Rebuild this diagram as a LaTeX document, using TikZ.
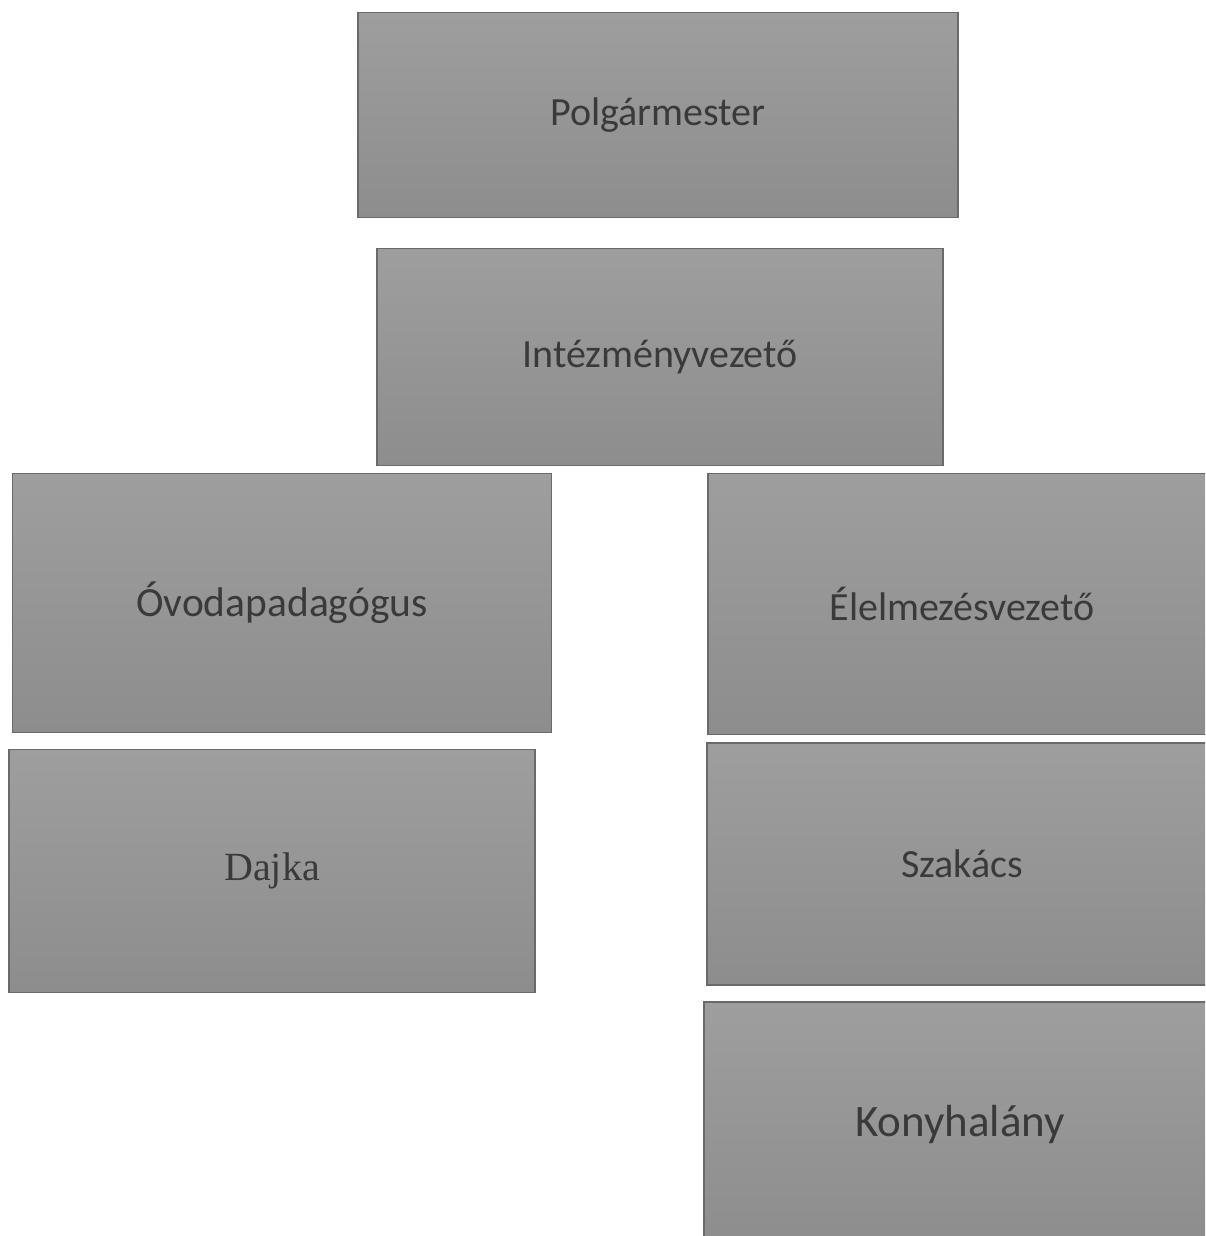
\documentclass[tikz,border=0pt]{standalone}
\usepackage{fontspec}
\setsansfont{Carlito}
\newfontfamily\serifname{Liberation Serif}
\usetikzlibrary{positioning}
\definecolor{ink}{HTML}{3A3A3A}
\definecolor{boxTop}{HTML}{9E9E9E}
\definecolor{boxBottom}{HTML}{8D8D8D}
\definecolor{boxStroke}{HTML}{6A6A6A}
\tikzset{
  every node/.style={
    font=\sffamily\fontsize{40}{48}\selectfont,
    text=ink,
    align=center,
    inner sep=0pt,
  },
  rolebox/.style={
    rectangle,
    draw=boxStroke, line width=1.2pt,
    top color=boxTop, bottom color=boxBottom,
  },
}
\begin{document}
\begin{tikzpicture}[x=1pt, y=-1pt]

% ============================================
% Page frame in pixels: x in [0,1205], y in [0,1236] (top-down)
% ============================================
\useasboundingbox (0,0) rectangle (1205,1236);
\clip (0,0) rectangle (1205,1236);

% ----- Top: mayor and head of institution -----
\node[rolebox, minimum width=600, minimum height=205] (mayor) at (658,115) {Polgármester};
\node[rolebox, minimum width=566, minimum height=217] (head)  at (660,357) {Intézményvezető};

% ----- Left column: teaching staff -----
\node[rolebox, minimum width=539, minimum height=259, font=\sffamily\fontsize{41.5}{48}\selectfont]
  (teacher) at (282,603) {Óvodapadagógus};
\node[rolebox, minimum width=526, minimum height=243, font=\serifname\fontsize{40}{48}\selectfont]
  (nanny) at (272,871) {Dajka};

% ----- Right column: kitchen staff (runs off the right edge) -----
\node[rolebox, minimum width=508, minimum height=261] (catering) at (962,604) {Élelmezésvezető};
\node[rolebox, minimum width=510, minimum height=242] (cook)     at (962,864) {Szakács};
\node[rolebox, minimum width=512, minimum height=244, font=\sffamily\fontsize{45}{52}\selectfont]
  (kitchen) at (960,1124) {Konyhalány};

\end{tikzpicture}
\end{document}
